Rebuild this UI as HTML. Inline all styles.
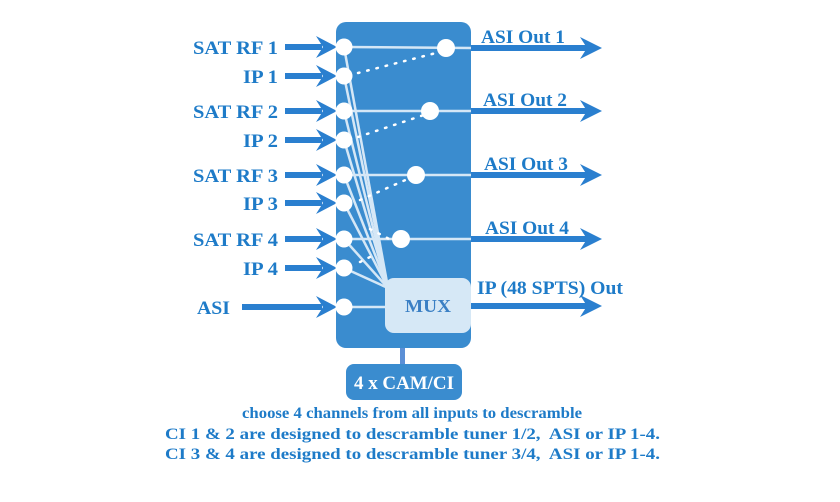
<!DOCTYPE html>
<html><head><style>
html,body{margin:0;padding:0;background:#fff;}
svg{display:block;}
text{font-family:"Liberation Serif",serif;font-weight:bold;}
</style></head><body>
<svg width="840" height="502" viewBox="0 0 840 502" xmlns="http://www.w3.org/2000/svg">
<rect x="336" y="22" width="135" height="326" rx="10" fill="#3a8ccf"/>
<rect x="400" y="348" width="5" height="17" fill="#5b8fd6"/>
<rect x="346" y="364" width="116" height="36" rx="8" fill="#3a8ccf"/>
<text x="404" y="389" font-size="19" fill="#fff" text-anchor="middle" textLength="100" lengthAdjust="spacingAndGlyphs">4 x CAM/CI</text>
<g stroke="#2a7fcf" stroke-width="6" fill="#2a7fcf">
<line x1="285" y1="47" x2="322" y2="47"/><line x1="285" y1="76" x2="322" y2="76"/>
<line x1="285" y1="111" x2="322" y2="111"/><line x1="285" y1="140" x2="322" y2="140"/>
<line x1="285" y1="175" x2="322" y2="175"/><line x1="285" y1="203" x2="322" y2="203"/>
<line x1="285" y1="239" x2="322" y2="239"/><line x1="285" y1="268" x2="322" y2="268"/>
<line x1="242" y1="307" x2="322" y2="307"/>
</g>
<g fill="#2a7fcf">
<path d="M316 36 L337 47 L316 58 L323 47Z"/><path d="M316 65 L337 76 L316 87 L323 76Z"/>
<path d="M316 100 L337 111 L316 122 L323 111Z"/><path d="M316 129 L337 140 L316 151 L323 140Z"/>
<path d="M316 164 L337 175 L316 186 L323 175Z"/><path d="M316 192 L337 203 L316 214 L323 203Z"/>
<path d="M316 228 L337 239 L316 250 L323 239Z"/><path d="M316 257 L337 268 L316 279 L323 268Z"/>
<path d="M316 296 L337 307 L316 318 L323 307Z"/>
</g>
<g stroke="#2a7fcf" stroke-width="6">
<line x1="471" y1="48" x2="590" y2="48"/><line x1="471" y1="111" x2="590" y2="111"/>
<line x1="471" y1="175" x2="590" y2="175"/><line x1="471" y1="239" x2="590" y2="239"/>
<line x1="471" y1="306" x2="590" y2="306"/>
</g>
<g fill="#2a7fcf">
<path d="M580 37 L602 48 L580 59 L587 48Z"/><path d="M580 100 L602 111 L580 122 L587 111Z"/>
<path d="M580 164 L602 175 L580 186 L587 175Z"/><path d="M580 228 L602 239 L580 250 L587 239Z"/>
<path d="M580 295 L602 306 L580 317 L587 306Z"/>
</g>
<g stroke="#e6f1fb" stroke-width="2.5" opacity="0.9">
<line x1="344" y1="47" x2="471" y2="48"/><line x1="344" y1="111" x2="471" y2="111"/>
<line x1="344" y1="175" x2="471" y2="175"/><line x1="344" y1="239" x2="471" y2="239"/>
<line x1="344" y1="307" x2="390" y2="307"/>
<line x1="344" y1="47" x2="388" y2="288"/><line x1="344" y1="76" x2="388" y2="288"/>
<line x1="344" y1="111" x2="388" y2="288"/><line x1="344" y1="140" x2="388" y2="288"/>
<line x1="344" y1="175" x2="388" y2="288"/><line x1="344" y1="203" x2="388" y2="288"/>
<line x1="344" y1="239" x2="388" y2="288"/><line x1="344" y1="268" x2="388" y2="288"/>
</g>
<g stroke="#fff" stroke-width="2.5" stroke-dasharray="1.5 8" stroke-linecap="round">
<line x1="358" y1="73" x2="440" y2="52"/><line x1="358" y1="137" x2="424" y2="115"/>
<line x1="360" y1="200" x2="410" y2="178"/><line x1="370" y1="229" x2="395" y2="242"/>
<line x1="360" y1="262" x2="372" y2="256"/>
</g>
<g fill="#fff">
<circle cx="344" cy="47" r="8.5"/><circle cx="344" cy="76" r="8.5"/>
<circle cx="344" cy="111" r="8.5"/><circle cx="344" cy="140" r="8.5"/>
<circle cx="344" cy="175" r="8.5"/><circle cx="344" cy="203" r="8.5"/>
<circle cx="344" cy="239" r="8.5"/><circle cx="344" cy="268" r="8.5"/>
<circle cx="344" cy="307" r="8.5"/>
<circle cx="446" cy="48" r="9"/><circle cx="430" cy="111" r="9"/>
<circle cx="416" cy="175" r="9"/><circle cx="401" cy="239" r="9"/>
</g>
<rect x="385" y="278" width="86" height="55" rx="9" fill="#d6e8f6"/>
<text x="428" y="312" font-size="18" fill="#3a7fc4" text-anchor="middle" textLength="46" lengthAdjust="spacingAndGlyphs">MUX</text>
<g fill="#1e7bc8" font-size="19">
<text x="193" y="54" textLength="85" lengthAdjust="spacingAndGlyphs">SAT RF 1</text><text x="243" y="83" textLength="35" lengthAdjust="spacingAndGlyphs">IP 1</text>
<text x="193" y="118" textLength="85" lengthAdjust="spacingAndGlyphs">SAT RF 2</text><text x="243" y="147" textLength="35" lengthAdjust="spacingAndGlyphs">IP 2</text>
<text x="193" y="182" textLength="85" lengthAdjust="spacingAndGlyphs">SAT RF 3</text><text x="243" y="210" textLength="35" lengthAdjust="spacingAndGlyphs">IP 3</text>
<text x="193" y="246" textLength="85" lengthAdjust="spacingAndGlyphs">SAT RF 4</text><text x="243" y="275" textLength="35" lengthAdjust="spacingAndGlyphs">IP 4</text>
<text x="197" y="314" textLength="33" lengthAdjust="spacingAndGlyphs">ASI</text>
</g>
<g fill="#1e7bc8" font-size="19">
<text x="481" y="43" textLength="84" lengthAdjust="spacingAndGlyphs">ASI Out 1</text><text x="483" y="106" textLength="84" lengthAdjust="spacingAndGlyphs">ASI Out 2</text>
<text x="484" y="170" textLength="84" lengthAdjust="spacingAndGlyphs">ASI Out 3</text><text x="485" y="234" textLength="84" lengthAdjust="spacingAndGlyphs">ASI Out 4</text>
<text x="477" y="294" textLength="146" lengthAdjust="spacingAndGlyphs">IP (48 SPTS) Out</text>
</g>
<g fill="#1e7bc8" font-size="16">
<text x="242" y="418" textLength="340" lengthAdjust="spacingAndGlyphs">choose 4 channels from all inputs to descramble</text>
<text x="165" y="439" textLength="495" lengthAdjust="spacingAndGlyphs" xml:space="preserve">CI 1 &amp; 2 are designed to descramble tuner 1/2,  ASI or IP 1-4.</text>
<text x="165" y="459" textLength="495" lengthAdjust="spacingAndGlyphs" xml:space="preserve">CI 3 &amp; 4 are designed to descramble tuner 3/4,  ASI or IP 1-4.</text>
</g>
</svg>
</body></html>
